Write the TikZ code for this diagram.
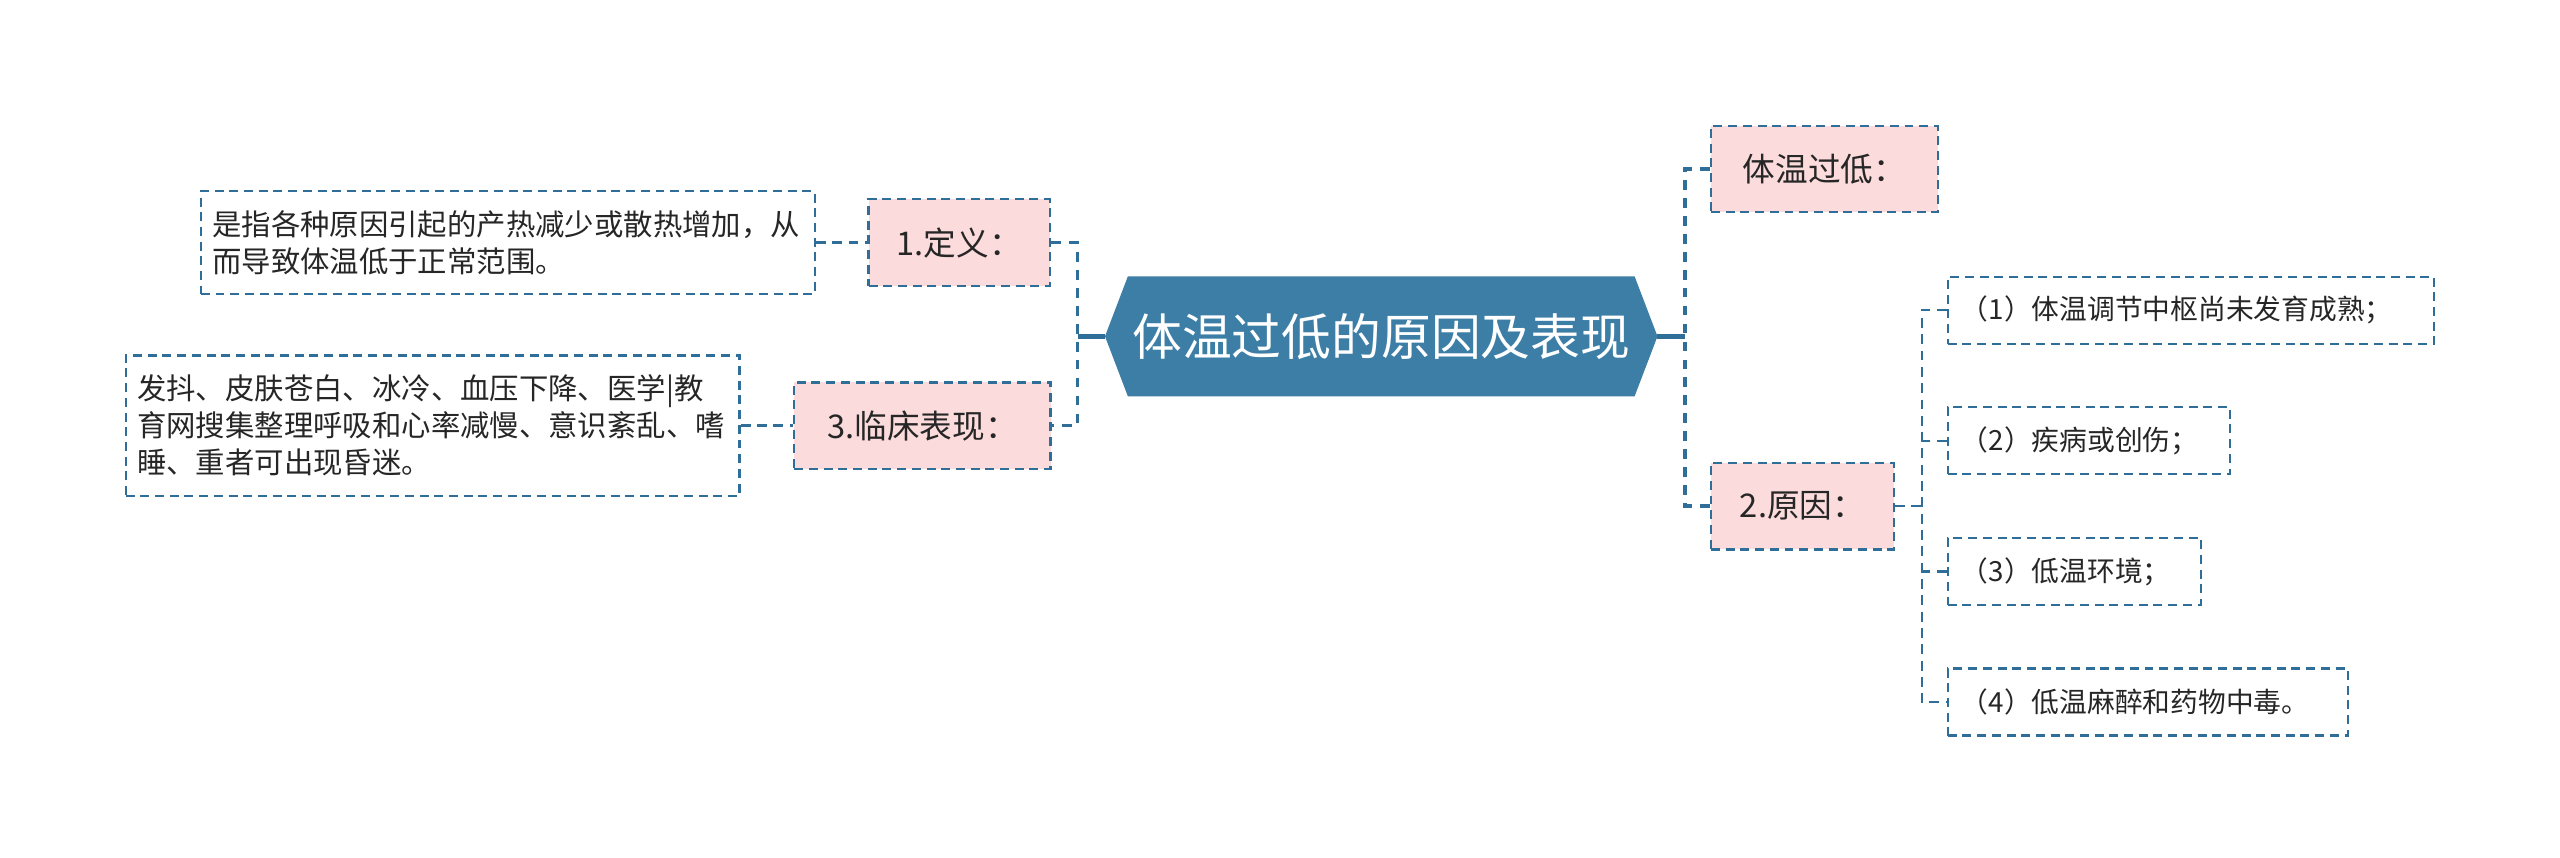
\documentclass[tikz,border=0pt]{standalone}
\usepackage{fontspec}
\setmainfont{Noto Sans CJK SC}
\usetikzlibrary{backgrounds}
\definecolor{hexfill}{RGB}{61,126,166}
\definecolor{lineblue}{RGB}{46,110,152}
\definecolor{pinkfill}{RGB}{251,219,219}
\definecolor{txt}{RGB}{38,38,38}
\tikzset{
  dbox/.style={draw=lineblue, line width=1.4pt, dash pattern=on 5.5pt off 3.5pt, text=txt, inner sep=0pt},
  pinkbox/.style={dbox, fill=pinkfill, font=\fontsize{20}{24}\selectfont},
  notebox/.style={dbox, fill=white, align=left, font=\fontsize{18}{22.6}\selectfont},
  leafbox/.style={dbox, fill=white, align=left, minimum height=41pt, font=\fontsize{17}{21}\selectfont},
  mainconn/.style={draw=lineblue, line width=2.2pt, dash pattern=on 6pt off 5pt},
  subconn/.style={draw=lineblue, line width=1.4pt, dash pattern=on 6pt off 4pt},
  solidconn/.style={draw=lineblue, line width=3pt},
  rootnode/.style={text=white, inner sep=0pt, minimum width=338pt, minimum height=73pt, font=\fontsize{30.5}{34}\selectfont},
}
\begin{document}
\begin{tikzpicture}[x=1pt, y=-1pt]
\useasboundingbox (0,0) rectangle (1568,525);

% central node
\node[rootnode] (root) at (846,206) {体温过低的原因及表现};
\begin{pgfonlayer}{background}
\fill[hexfill] (root.west) -- ([xshift=14pt]root.north west) -- ([xshift=-14pt]root.north east)
  -- (root.east) -- ([xshift=-14pt]root.south east) -- ([xshift=14pt]root.south west) -- cycle;
\end{pgfonlayer}

% junctions
\coordinate (jl) at (660,206);
\coordinate (jr) at (1032,206);
\coordinate (jc) at (1177,310);

% left branch
\node[pinkbox, minimum width=111pt, minimum height=53pt] (def) at (587.5,148.6) {1.定义：};
\node[pinkbox, minimum width=157pt, minimum height=53pt] (clin) at (565,260.7) {3.临床表现：};
\node[notebox, minimum width=376pt, minimum height=63pt, text width=362pt] (deftext) at (311,148.6)
  {是指各种原因引起的产热减少或散热增加，从\\而导致体温低于正常范围。};
\node[notebox, minimum width=376pt, minimum height=86pt, text width=362pt] (clintext) at (265,260.7)
  {发抖、皮肤苍白、冰冷、血压下降、医学|教\\育网搜集整理呼吸和心率减慢、意识紊乱、嗜\\睡、重者可出现昏迷。};

% right branch
\node[pinkbox, minimum width=139pt, minimum height=53pt] (low) at (1117.5,103.5) {体温过低：};
\node[pinkbox, minimum width=112pt, minimum height=53pt] (cause) at (1104,310) {2.原因：};
\node[leafbox, minimum width=298pt, text width=282pt] (s1) at (1342,190) {（1）体温调节中枢尚未发育成熟；};
\node[leafbox, minimum width=173pt, text width=157pt] (s2) at (1279.5,270) {（2）疾病或创伤；};
\node[leafbox, minimum width=155pt, text width=139pt] (s3) at (1270.5,350) {（3）低温环境；};
\node[leafbox, minimum width=245pt, text width=229pt] (s4) at (1315.5,430) {（4）低温麻醉和药物中毒。};

% connectors
\draw[solidconn] (root.west) -- (root.west -| jl);
\draw[mainconn] (def.east) -| (jl |- clin.east) -- (clin.east);
\draw[subconn] (deftext.east) -- (def.west);
\draw[subconn] (clintext.east) -- (clin.west);

\draw[solidconn] (root.east) -- (root.east -| jr);
\draw[mainconn] (low.west) -| (jr |- cause.west) -- (cause.west);

\draw[subconn] (cause.east) -- (cause.east -| jc);
\draw[subconn] (s1.west) -| (jc |- s4.west) -- (s4.west);
\draw[subconn] (s2.west) -- (s2.west -| jc);
\draw[subconn] (s3.west) -- (s3.west -| jc);
\end{tikzpicture}
\end{document}
